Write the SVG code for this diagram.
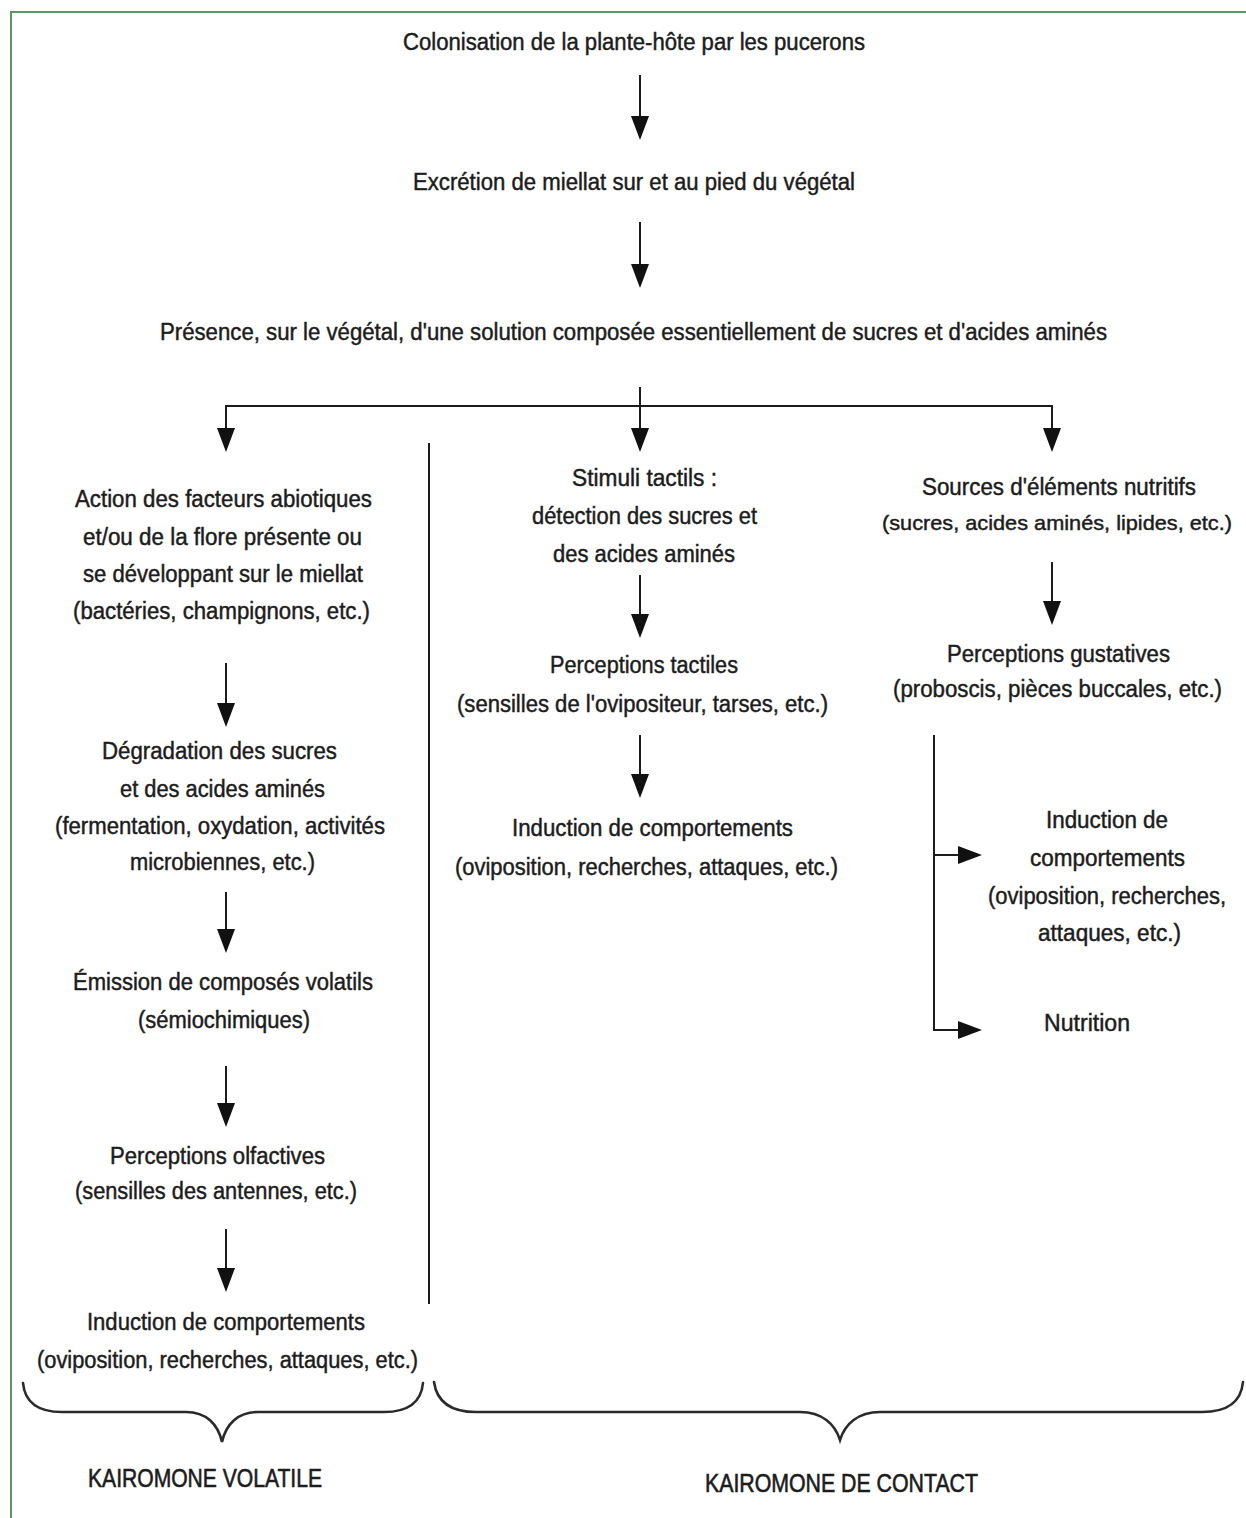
<svg xmlns="http://www.w3.org/2000/svg" width="1246" height="1518" viewBox="0 0 1246 1518">
  <style>
    .t { font-family: "Liberation Sans", Arial, sans-serif; font-size: 23px; fill: #1c1c1c; stroke: #1c1c1c; stroke-width: 0.45px; }
    .s { font-size: 21px; }
    .k { font-family: "Liberation Sans", Arial, sans-serif; font-size: 25px; fill: #1c1c1c; stroke: #1c1c1c; stroke-width: 0.6px; }
    .ln { stroke: #1c1c1c; stroke-width: 2; fill: none; }
    .ar { stroke: #1c1c1c; stroke-width: 2; fill: none; marker-end: url(#head); }
    .br { stroke: #2a2a2a; stroke-width: 2.6; fill: none; stroke-linecap: round; }
  </style>
  <defs>
    <marker id="head" markerUnits="userSpaceOnUse" markerWidth="24" markerHeight="18" viewBox="0 0 24 18" refX="4" refY="9" orient="auto">
      <path d="M0,0 L24,9 L0,18 z" fill="#111"/>
    </marker>
  </defs>

  <rect width="1246" height="1518" fill="#ffffff"/>
  <!-- frame: top and left edges -->
  <path d="M11,1518 L11,12 L1246,12" fill="none" stroke="#5a9a62" stroke-width="2"/>

  <!-- connectors -->
  <g id="connectors">
    <line class="ar" x1="640" y1="75" x2="640" y2="120"/>
    <line class="ar" x1="640" y1="222" x2="640" y2="268"/>
    <line class="ar" x1="640" y1="387" x2="640" y2="432"/>
    <path class="ar" d="M640,406 L226,406 L226,432"/>
    <path class="ar" d="M640,406 L1052,406 L1052,432"/>

    <line class="ln" x1="429" y1="443" x2="429" y2="1304"/>

    <line class="ar" x1="226" y1="663" x2="226" y2="707"/>
    <line class="ar" x1="226" y1="892" x2="226" y2="933"/>
    <line class="ar" x1="226" y1="1066" x2="226" y2="1107"/>
    <line class="ar" x1="226" y1="1229" x2="226" y2="1272"/>

    <line class="ar" x1="640" y1="575" x2="640" y2="618"/>
    <line class="ar" x1="640" y1="735" x2="640" y2="778"/>

    <line class="ar" x1="1052" y1="562" x2="1052" y2="605"/>
    <path class="ar" d="M934,735 L934,1030 L962,1030"/>
    <line class="ar" x1="934" y1="855" x2="962" y2="855"/>

    <path class="br" d="M23,1383 C25,1404 40,1412 62,1412 L186,1412 C206,1412 218,1424 222,1442 C226,1424 238,1412 258,1412 L384,1412 C406,1412 421,1404 423,1383"/>
    <path class="br" d="M434,1382 C437,1403 452,1412 476,1412 L800,1412 C822,1412 835,1424 840,1440 C845,1424 858,1412 880,1412 L1202,1412 C1226,1412 1241,1403 1243,1382"/>
  </g>

  <g id="n-colonisation">
    <text class="t" x="403" y="50" textLength="462" lengthAdjust="spacingAndGlyphs">Colonisation de la plante-hôte par les pucerons</text>
  </g>
  <g id="n-excretion">
    <text class="t" x="413" y="190" textLength="442" lengthAdjust="spacingAndGlyphs">Excrétion de miellat sur et au pied du végétal</text>
  </g>
  <g id="n-presence">
    <text class="t" x="160" y="340" textLength="947" lengthAdjust="spacingAndGlyphs">Présence, sur le végétal, d'une solution composée essentiellement de sucres et d'acides aminés</text>
  </g>

  <g id="n-action">
    <text class="t" x="75" y="507" textLength="297" lengthAdjust="spacingAndGlyphs">Action des facteurs abiotiques</text>
    <text class="t" x="83" y="545" textLength="279" lengthAdjust="spacingAndGlyphs">et/ou de la flore présente ou</text>
    <text class="t" x="83" y="582" textLength="280" lengthAdjust="spacingAndGlyphs">se développant sur le miellat</text>
    <text class="t" x="73" y="619" textLength="297" lengthAdjust="spacingAndGlyphs">(bactéries, champignons, etc.)</text>
  </g>
  <g id="n-degradation">
    <text class="t" x="102" y="759" textLength="235" lengthAdjust="spacingAndGlyphs">Dégradation des sucres</text>
    <text class="t" x="120" y="797" textLength="205" lengthAdjust="spacingAndGlyphs">et des acides aminés</text>
    <text class="t" x="55" y="834" textLength="330" lengthAdjust="spacingAndGlyphs">(fermentation, oxydation, activités</text>
    <text class="t" x="130" y="870" textLength="185" lengthAdjust="spacingAndGlyphs">microbiennes, etc.)</text>
  </g>
  <g id="n-emission">
    <text class="t" x="73" y="990" textLength="300" lengthAdjust="spacingAndGlyphs">Émission de composés volatils</text>
    <text class="t" x="138" y="1028" textLength="172" lengthAdjust="spacingAndGlyphs">(sémiochimiques)</text>
  </g>
  <g id="n-olfactives">
    <text class="t" x="110" y="1164" textLength="215" lengthAdjust="spacingAndGlyphs">Perceptions olfactives</text>
    <text class="t" x="75" y="1199" textLength="282" lengthAdjust="spacingAndGlyphs">(sensilles des antennes, etc.)</text>
  </g>
  <g id="n-induction-volatile">
    <text class="t" x="87" y="1330" textLength="278" lengthAdjust="spacingAndGlyphs">Induction de comportements</text>
    <text class="t" x="37" y="1368" textLength="381" lengthAdjust="spacingAndGlyphs">(oviposition, recherches, attaques, etc.)</text>
  </g>

  <g id="n-stimuli">
    <text class="t" x="572" y="486" textLength="145" lengthAdjust="spacingAndGlyphs">Stimuli tactils :</text>
    <text class="t" x="532" y="524" textLength="225" lengthAdjust="spacingAndGlyphs">détection des sucres et</text>
    <text class="t" x="553" y="562" textLength="182" lengthAdjust="spacingAndGlyphs">des acides aminés</text>
  </g>
  <g id="n-tactiles">
    <text class="t" x="550" y="673" textLength="188" lengthAdjust="spacingAndGlyphs">Perceptions tactiles</text>
    <text class="t" x="457" y="712" textLength="371" lengthAdjust="spacingAndGlyphs">(sensilles de l'ovipositeur, tarses, etc.)</text>
  </g>
  <g id="n-induction-tactile">
    <text class="t" x="512" y="836" textLength="281" lengthAdjust="spacingAndGlyphs">Induction de comportements</text>
    <text class="t" x="455" y="875" textLength="383" lengthAdjust="spacingAndGlyphs">(oviposition, recherches, attaques, etc.)</text>
  </g>

  <g id="n-sources">
    <text class="t" x="922" y="495" textLength="274" lengthAdjust="spacingAndGlyphs">Sources d'éléments nutritifs</text>
    <text class="t s" x="882" y="530" textLength="350" lengthAdjust="spacingAndGlyphs">(sucres, acides aminés, lipides, etc.)</text>
  </g>
  <g id="n-gustatives">
    <text class="t" x="947" y="662" textLength="223" lengthAdjust="spacingAndGlyphs">Perceptions gustatives</text>
    <text class="t" x="893" y="697" textLength="329" lengthAdjust="spacingAndGlyphs">(proboscis, pièces buccales, etc.)</text>
  </g>
  <g id="n-induction-contact">
    <text class="t" x="1046" y="828" textLength="122" lengthAdjust="spacingAndGlyphs">Induction de</text>
    <text class="t" x="1030" y="866" textLength="155" lengthAdjust="spacingAndGlyphs">comportements</text>
    <text class="t" x="988" y="904" textLength="238" lengthAdjust="spacingAndGlyphs">(oviposition, recherches,</text>
    <text class="t" x="1038" y="941" textLength="143" lengthAdjust="spacingAndGlyphs">attaques, etc.)</text>
  </g>
  <g id="n-nutrition">
    <text class="t" x="1044" y="1031" textLength="86" lengthAdjust="spacingAndGlyphs">Nutrition</text>
  </g>

  <g id="n-kairomone-volatile">
    <text class="k" x="88" y="1487" textLength="234" lengthAdjust="spacingAndGlyphs">KAIROMONE VOLATILE</text>
  </g>
  <g id="n-kairomone-contact">
    <text class="k" x="705" y="1492" textLength="273" lengthAdjust="spacingAndGlyphs">KAIROMONE DE CONTACT</text>
  </g>
</svg>
